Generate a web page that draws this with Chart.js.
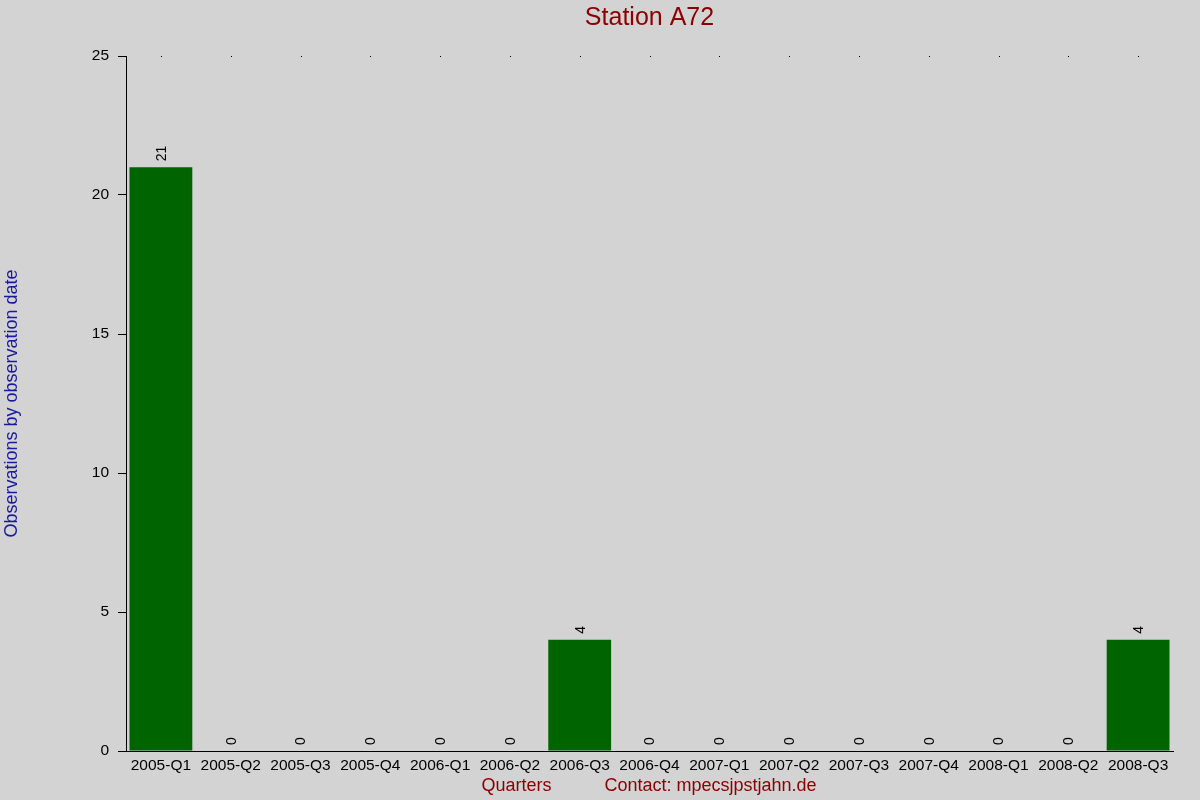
<!DOCTYPE html>
<html>
<head>
<meta charset="utf-8">
<title>Station A72</title>
<script src="https://cdn.jsdelivr.net/npm/chart.js@4/dist/chart.umd.min.js"></script>
<style>
  html, body { margin: 0; padding: 0; background: #d3d3d3; }
  #wrap { width: 1200px; height: 800px; }
</style>
</head>
<body>
<div id="wrap"><canvas id="chart" width="1200" height="800"></canvas></div>
<script>
// chart data
const quarters = ['2005-Q1', '2005-Q2', '2005-Q3', '2005-Q4', '2006-Q1', '2006-Q2', '2006-Q3', '2006-Q4',
  '2007-Q1', '2007-Q2', '2007-Q3', '2007-Q4', '2008-Q1', '2008-Q2', '2008-Q3'];
const observations = [21, 0, 0, 0, 0, 0, 4, 0, 0, 0, 0, 0, 0, 0, 4];
const yTicks = [0, 5, 10, 15, 20, 25];

const FONT = 'Arial, "Liberation Sans", sans-serif';

// background, title, footer texts, top dots and value labels
const decorations = {
  id: 'decorations',
  beforeDraw(chart) {
    const ctx = chart.ctx;
    ctx.save();
    ctx.fillStyle = '#d3d3d3';
    ctx.fillRect(0, 0, chart.width, chart.height);
    ctx.restore();
  },
  afterDatasetsDraw(chart) {
    const ctx = chart.ctx;
    const meta = chart.getDatasetMeta(0);
    ctx.save();
    ctx.fillStyle = '#000';
    ctx.font = '14px ' + FONT;
    ctx.textAlign = 'left';
    ctx.textBaseline = 'middle';
    meta.data.forEach((bar, i) => {
      ctx.save();
      ctx.translate(bar.x + 1, bar.y - 6);
      ctx.rotate(-Math.PI / 2);
      ctx.fillText(String(observations[i]), 0, 0);
      ctx.restore();
    });
    ctx.restore();
  },
  afterDraw(chart) {
    const ctx = chart.ctx;
    const area = chart.chartArea;
    const xScale = chart.scales.x;
    ctx.save();

    // little dots along the top edge
    ctx.fillStyle = '#000';
    xScale.ticks.forEach((t, i) => {
      const x = Math.round(xScale.getPixelForTick(i));
      ctx.fillRect(x, Math.round(area.top), 1, 1);
    });

    // title
    const midX = (area.left + area.right) / 2;
    ctx.fillStyle = '#8b0000';
    ctx.textAlign = 'center';
    ctx.textBaseline = 'middle';
    ctx.font = '25px ' + FONT;
    ctx.fillText('Station A72', midX, 18);

    // footer
    ctx.font = '18px ' + FONT;
    ctx.fillText('Quarters', midX - 133, 786);
    ctx.fillText('Contact: mpecsjpstjahn.de', midX + 61, 786);
    ctx.restore();
  }
};

const ctx = document.getElementById('chart').getContext('2d');
new Chart(ctx, {
  type: 'bar',
  data: {
    labels: quarters,
    datasets: [{
      data: observations,
      backgroundColor: '#006400',
      borderWidth: 0,
      barPercentage: 0.9,
      categoryPercentage: 1.0
    }]
  },
  options: {
    responsive: false,
    devicePixelRatio: 1,
    animation: false,
    layout: { padding: { top: 56, right: 27, left: 0, bottom: 0 } },
    plugins: {
      legend: { display: false },
      title: { display: false },
      tooltip: { enabled: false }
    },
    scales: {
      x: {
        grid: { display: false },
        border: { display: true, color: '#000', width: 1 },
        ticks: {
          color: '#000',
          font: { family: FONT, size: 15.5 },
          padding: -3,
          maxRotation: 0,
          autoSkip: false
        },
        afterFit(scale) { scale.height = 49; }
      },
      y: {
        min: 0,
        max: 25,
        afterBuildTicks(scale) {
          scale.ticks = yTicks.map(v => ({ value: v }));
        },
        grid: {
          drawOnChartArea: false,
          tickLength: 8,
          color: '#000'
        },
        border: { display: true, color: '#000', width: 1 },
        ticks: {
          color: '#000',
          font: { family: FONT, size: 15.5 },
          padding: 9
        },
        title: {
          display: true,
          text: 'Observations by observation date',
          color: '#1a1a9e',
          font: { family: FONT, size: 18 },
          padding: { top: 1, bottom: 0 }
        },
        afterFit(scale) { scale.width = 126; }
      }
    }
  },
  plugins: [decorations]
});
</script>
</body>
</html>
